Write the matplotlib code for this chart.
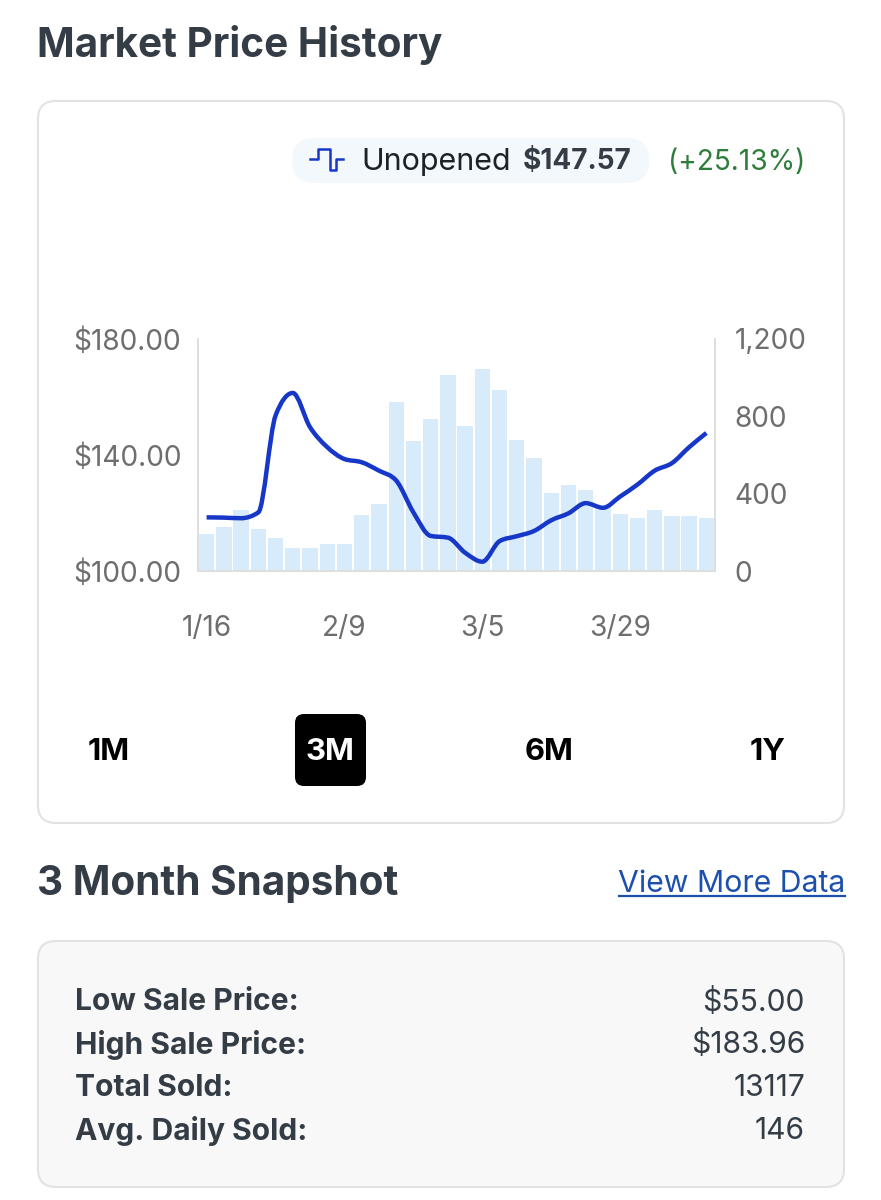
import matplotlib
matplotlib.use('Agg')
import matplotlib.pyplot as plt
from matplotlib.patches import FancyBboxPatch, PathPatch
from matplotlib.path import Path

plt.rcParams['font.family'] = ['Inter', 'DejaVu Sans']

# 3 day bins
date_labels = ['1/16', '2/9', '3/5', '3/29']
date_ticks = [0, 8, 16, 24]
price_ticks = [100, 140, 180]
price_labels = ['$100.00', '$140.00', '$180.00']
volume_ticks = [0, 400, 800, 1200]
volume_labels = ['0', '400', '800', '1,200']

volume = [193, 228, 314, 217, 169, 121, 121, 140, 141, 291,
          347, 874, 672, 784, 1012, 750, 1045, 936, 678, 583,
          403, 443, 419, 328, 295, 276, 314, 286, 286, 274]
price = [118.5, 118.4, 118.2, 120.2, 153.6, 161.4, 149.6, 142.7, 138.6, 137.5,
         134.6, 131.2, 120.2, 112.1, 111.5, 106.3, 103.2, 110.3, 112.0, 113.8,
         117.5, 119.9, 123.4, 121.8, 125.7, 129.8, 134.6, 137.2, 142.7, 147.6]

periods = ['1M', '3M', '6M', '1Y']
period_x = [109, 330, 549, 768]
snapshot_names = ['Low Sale Price:', 'High Sale Price:', 'Total Sold:', 'Avg. Daily Sold:']
snapshot_values = ['$55.00', '$183.96', '13117', '146']
snapshot_y = [1002, 1045, 1088, 1131]

W, H = 881, 1200
dark = '#343d46'
grey = '#6e6e6e'
blue = '#1637c8'


def px(n):
    return n * 72 / 100


def box(a, x0, y0, x1, y1, r, fc, ec='none', lw=0, z=1):
    a.add_patch(FancyBboxPatch((x0 + r, y0 + r), x1 - x0 - 2 * r, y1 - y0 - 2 * r,
                               boxstyle='round,pad=%f,rounding_size=%f' % (r, r),
                               fc=fc, ec=ec, lw=lw, zorder=z))


def monotone_path(xs, ys):
    # same curve as d3 monotoneX
    n = len(xs)
    d = [(ys[i + 1] - ys[i]) / (xs[i + 1] - xs[i]) for i in range(n - 1)]
    m = [d[0]] + [0] * (n - 2) + [d[-1]]
    for i in range(1, n - 1):
        if d[i - 1] * d[i] > 0:
            sign = 1 if d[i] > 0 else -1
            m[i] = sign * min(2 * abs(d[i - 1]), 2 * abs(d[i]), abs(d[i - 1] + d[i]) / 2)
    verts = [(xs[0], ys[0])]
    codes = [Path.MOVETO]
    for i in range(n - 1):
        h = (xs[i + 1] - xs[i]) / 3
        verts += [(xs[i] + h, ys[i] + m[i] * h), (xs[i + 1] - h, ys[i + 1] - m[i + 1] * h), (xs[i + 1], ys[i + 1])]
        codes += [Path.CURVE4] * 3
    return Path(verts, codes)


fig = plt.figure(figsize=(W / 100, H / 100), dpi=100, facecolor='white')

bg = fig.add_axes([0, 0, 1, 1])
bg.set_xlim(0, W)
bg.set_ylim(H, 0)
bg.axis('off')

bg.text(37, 45, 'Market Price History', fontsize=px(40.5), fontweight='bold', color=dark, va='center')
box(bg, 38, 101, 844, 823, 18, 'white', '#e2e2e4', 1.5)

# legend pill
box(bg, 292, 138, 649, 183, 22, '#f3f8fd')
bg.plot([310, 318, 318, 330, 330, 336, 336, 343], [159, 159, 149, 149, 170, 170, 159, 159], color=blue, lw=1.8, zorder=3)
bg.text(361, 162, 'Unopened', fontsize=px(30.5), color='#1d2128', va='center', zorder=3)
bg.text(523, 162, '$147.57', fontsize=px(28), fontweight='bold', color=dark, va='center', zorder=3)
bg.text(668, 162, '(+25.13%)', fontsize=px(28), color='#2f7d3b', va='center')

# period buttons
box(bg, 295, 714, 366, 786, 9, 'black', z=2)
for label, x in zip(periods, period_x):
    bg.text(x, 752, label, fontsize=px(31), fontweight='bold', ha='center', va='center', zorder=3,
            color='white' if label == '3M' else 'black')

# snapshot
bg.text(37, 884, '3 Month Snapshot', fontsize=px(40.5), fontweight='bold', color=dark, va='center')
bg.text(845, 884, 'View More Data', fontsize=px(30.2), color='#1c4fae', va='center', ha='right')
bg.plot([619, 845], [896, 896], color='#1c4fae', lw=1.6)
box(bg, 38, 941, 844, 1187, 18, '#f8f8f9', '#e2e2e4', 1.5)
for name, value, y in zip(snapshot_names, snapshot_values, snapshot_y):
    bg.text(75, y, name, fontsize=px(30), fontweight='bold', color=dark, va='center', zorder=3)
    bg.text(805, y, value, fontsize=px(30), color=dark, va='center', ha='right', zorder=3)

# chart
rect = [198 / W, 1 - 571 / H, (715 - 198) / W, (571 - 339) / H]
ax = fig.add_axes(rect)
ax2 = ax.twinx()
ax.set_zorder(ax2.get_zorder() + 1)
ax.patch.set_visible(False)

days = list(range(len(price)))
ax2.bar(days, volume, width=0.89, color='#d7ebfb')
ax.add_patch(PathPatch(monotone_path(days, price), fc='none', ec=blue, lw=3.2, capstyle='butt', joinstyle='round'))

ax.set_xlim(-0.5, 29.5)
ax.set_ylim(100, 180)
ax2.set_ylim(0, 1200)
ax.set_xticks(date_ticks, date_labels)
ax.set_yticks(price_ticks, price_labels)
ax2.set_yticks(volume_ticks, volume_labels)
ax.tick_params(axis='x', length=0, pad=32, labelsize=px(28), labelcolor=grey)
ax.tick_params(axis='y', length=0, pad=12, labelsize=px(28), labelcolor=grey)
ax2.tick_params(axis='y', length=0, pad=14, labelsize=px(28), labelcolor=grey)
for a in (ax, ax2):
    a.spines['top'].set_visible(False)
    for s in ('left', 'right', 'bottom'):
        a.spines[s].set_color('#dedede')
        a.spines[s].set_linewidth(1.4)

fig.savefig('out.png', dpi=100)
